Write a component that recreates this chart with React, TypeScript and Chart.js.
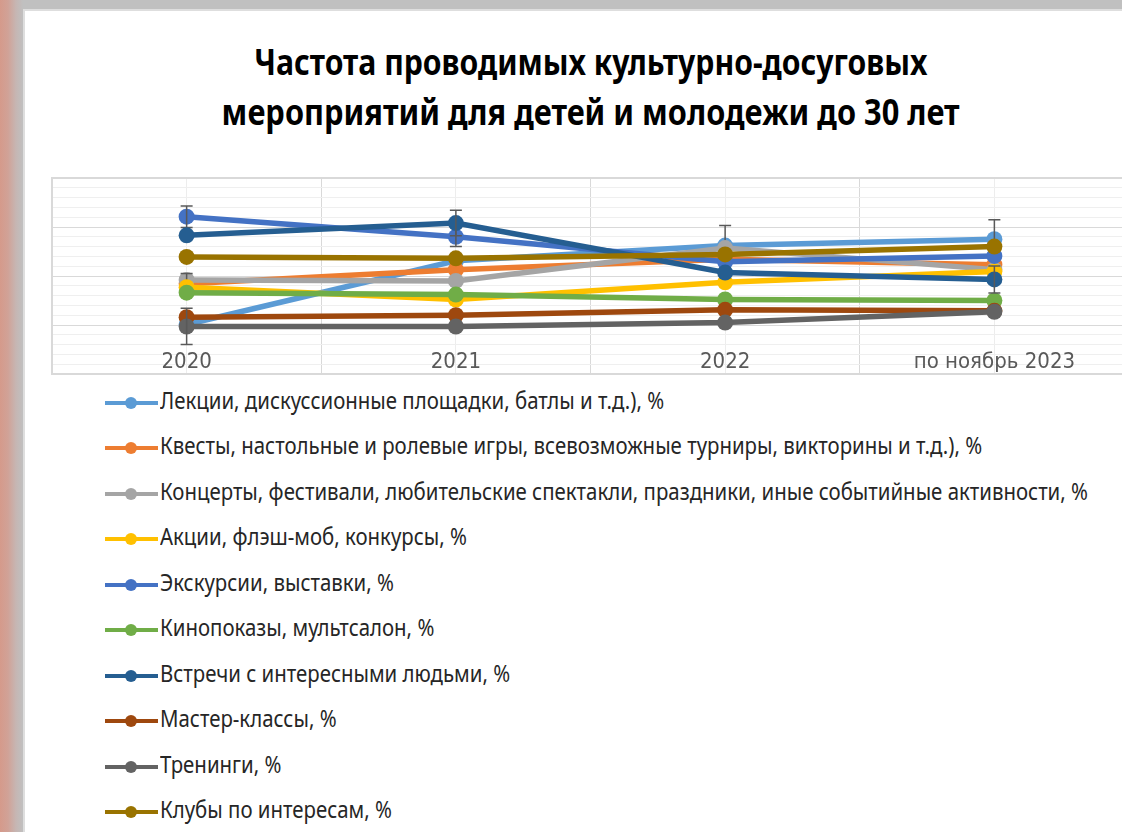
import React, { useEffect, useRef } from "react";
import { Chart, registerables } from "chart.js";

Chart.register(...registerables);

// ---------------- data ----------------
const categories = ["2020", "2021", "2022", "по ноябрь 2023"];

const titleLines = [
  "Частота проводимых культурно-досуговых",
  "мероприятий для детей и молодежи до 30 лет",
];

const seriesNames = [
  "Лекции, дискуссионные площадки, батлы и т.д.), %",
  "Квесты, настольные и ролевые игры, всевозможные турниры, викторины и т.д.), %",
  "Концерты, фестивали, любительские спектакли, праздники, иные событийные активности, %",
  "Акции, флэш-моб, конкурсы, %",
  "Экскурсии, выставки, %",
  "Кинопоказы, мультсалон, %",
  "Встречи с интересными людьми, %",
  "Мастер-классы, %",
  "Тренинги, %",
  "Клубы по интересам, %",
];

const lectures = [10.1, 23.1, 26.2, 27.5];
const quests = [18.4, 21.3, 23.4, 22.3];
const concerts = [19.2, 19.0, 25.7, 21.3];
const actions = [17.7, 15.2, 18.7, 20.9];
const excursions = [32.1, 28.0, 22.9, 24.1];
const cinema = [16.6, 16.2, 15.2, 15.0];
const meetings = [28.3, 30.8, 20.7, 19.3];
const masterClasses = [11.6, 12.0, 13.1, 12.9];
const trainings = [9.7, 9.7, 10.5, 12.7];
const clubs = [23.9, 23.6, 24.4, 26.0];

const seriesValues = [
  lectures, quests, concerts, actions, excursions,
  cinema, meetings, masterClasses, trainings, clubs,
];

// symmetric error bar sizes (same units as values)
const lecturesErr = [0, 0, 4.1, 4.0];
const concertsErr = [1.3, 0, 0, 0];
const excursionsErr = [2.2, 2.0, 0, 0];
const meetingsErr = [0, 2.6, 0, 2.75];
const trainingsErr = [3.7, 0, 0, 0];
const noErr = [0, 0, 0, 0];
const seriesErrors = [
  lecturesErr, noErr, concertsErr, noErr, excursionsErr,
  noErr, meetingsErr, noErr, trainingsErr, noErr,
];

const seriesColors = [
  "#5B9BD5", "#ED7D31", "#A5A5A5", "#FFC000", "#4472C4",
  "#70AD47", "#255E91", "#9E480E", "#636363", "#997300",
];

// ---------------- helpers ----------------
function measure(text: string, font: string): number {
  const c = document.createElement("canvas").getContext("2d");
  if (!c) return 1;
  c.font = font;
  return c.measureText(text).width || 1;
}

const TITLE_FONT_FAMILY = '"Noto Sans", "Open Sans", sans-serif';
const LEGEND_FONT_FAMILY = '"Noto Sans", "Open Sans", sans-serif';
const TICK_FONT_FAMILY = '"Liberation Sans Narrow", "DejaVu Sans Condensed", "Liberation Sans", sans-serif';

const errorBarPlugin = {
  id: "errorBars",
  afterDatasetDraw(chart: any, args: any) {
    const i = args.index;
    const errs = seriesErrors[i];
    const vals = seriesValues[i];
    if (!errs) return;
    const ys = chart.scales.y;
    const ctx = chart.ctx;
    ctx.save();
    ctx.strokeStyle = "#595959";
    ctx.lineWidth = 1.5;
    args.meta.data.forEach((pt: any, j: number) => {
      const e = errs[j];
      if (!e) return;
      const x = pt.x;
      const top = ys.getPixelForValue(vals[j] + e);
      const bot = ys.getPixelForValue(vals[j] - e);
      ctx.beginPath();
      ctx.moveTo(x, top);
      ctx.lineTo(x, bot);
      ctx.moveTo(x - 6, top);
      ctx.lineTo(x + 6, top);
      ctx.moveTo(x - 6, bot);
      ctx.lineTo(x + 6, bot);
      ctx.stroke();
    });
    ctx.restore();
  },
};

function LineChart() {
  const ref = useRef<HTMLCanvasElement | null>(null);
  useEffect(() => {
    if (!ref.current) return;
    const chart = new Chart(ref.current, {
      type: "line",
      data: {
        datasets: seriesValues.map((vals, i) => ({
          label: seriesNames[i],
          data: vals.map((v, j) => ({ x: j, y: v })),
          borderColor: seriesColors[i],
          backgroundColor: seriesColors[i],
          pointBackgroundColor: seriesColors[i],
          pointBorderColor: seriesColors[i],
          borderWidth: 5.5,
          pointRadius: 8,
          pointBorderWidth: 0,
          tension: 0,
          order: -i,
        })),
      },
      options: {
        animation: false,
        responsive: false,
        maintainAspectRatio: false,
        events: [],
        layout: { padding: { left: 8, top: 4, right: 15, bottom: 4 } },
        plugins: {
          legend: { display: false },
          title: { display: false },
          tooltip: { enabled: false },
        },
        scales: {
          x: {
            type: "linear",
            min: -0.5,
            max: 3.5,
            position: { y: 5 } as any,
            border: { display: false },
            grid: {
              drawTicks: false,
              color: (c: any) =>
                Number.isInteger(c.tick && c.tick.value) ? "#ededed" : "#d9d9d9",
              lineWidth: 1,
            },
            ticks: {
              stepSize: 0.5,
              autoSkip: false,
              maxRotation: 0,
              padding: 0,
              color: "#595959",
              font: { family: TICK_FONT_FAMILY, size: 22 },
              callback: (v: any) =>
                Number.isInteger(v) && categories[v] !== undefined ? categories[v] : "",
            },
          },
          y: {
            type: "linear",
            min: 0,
            max: 40,
            border: { display: true, color: "#d9d9d9", width: 2 },
            grid: {
              drawTicks: false,
              color: (c: any) => (c.tick && c.tick.value % 10 === 0 ? "#d9d9d9" : "#efefef"),
              lineWidth: (c: any) =>
                c.tick && (c.tick.value === 0 || c.tick.value === 40) ? 2 : 1,
            },
            ticks: { display: false, stepSize: 2 },
          },
        },
      },
      plugins: [errorBarPlugin],
    } as any);
    return () => chart.destroy();
  }, []);
  return (
    <canvas
      ref={ref}
      width={1100}
      height={212}
      style={{ position: "absolute", left: 44, top: 170, width: 1100, height: 212, display: "block" }}
    />
  );
}

export default function App() {
  const titleFont = `bold 36px ${TITLE_FONT_FAMILY}`;
  const titleTargets = [673, 738];
  const titleScales = titleLines.map((t, i) => titleTargets[i] / measure(t, titleFont));
  const titleCenters = [62, 112];

  const legendFont = `24px ${LEGEND_FONT_FAMILY}`;
  const legendScale = 928 / measure(seriesNames[2], legendFont);
  const legendTop = 403;
  const legendStep = 45.45;

  return (
    <div
      style={{
        position: "fixed",
        left: 0,
        top: 0,
        width: 1122,
        height: 832,
        overflow: "hidden",
        background:
          "linear-gradient(to right, #d59a8b 0px, #d1a297 8px, #c6b6b3 16px, #c0c0c0 23px, #c0c0c0 100%)",
      }}
    >
      <div
        style={{
          position: "absolute",
          left: 23,
          top: 9,
          right: 0,
          bottom: 0,
          background: "#ffffff",
          borderLeft: "2px solid #dedede",
          borderTop: "2px solid #dedede",
        }}
      />
      {titleLines.map((t, i) => (
        <div
          key={i}
          style={{
            position: "absolute",
            left: 30,
            width: 1122,
            top: titleCenters[i] - 25,
            height: 50,
            lineHeight: "50px",
            textAlign: "center",
            whiteSpace: "nowrap",
          }}
        >
          <span
            style={{
              display: "inline-block",
              font: titleFont,
              color: "#000",
              transform: `scaleX(${titleScales[i]})`,
              transformOrigin: "center",
            }}
          >
            {t}
          </span>
        </div>
      ))}
      <LineChart />
      {seriesNames.map((name, i) => {
        const cy = legendTop + i * legendStep;
        return (
          <div key={i} style={{ position: "absolute", left: 0, top: cy - 20, height: 40, width: 1122 }}>
            <div
              style={{
                position: "absolute",
                left: 105,
                top: 18,
                width: 53,
                height: 4,
                background: seriesColors[i],
              }}
            />
            <div
              style={{
                position: "absolute",
                left: 125,
                top: 14,
                width: 12,
                height: 12,
                borderRadius: 6,
                background: seriesColors[i],
              }}
            />
            <span
              style={{
                position: "absolute",
                left: 160,
                top: 0,
                lineHeight: "40px",
                whiteSpace: "nowrap",
                font: legendFont,
                color: "#262626",
                transform: `scaleX(${legendScale})`,
                transformOrigin: "left center",
              }}
            >
              {name}
            </span>
          </div>
        );
      })}
    </div>
  );
}
